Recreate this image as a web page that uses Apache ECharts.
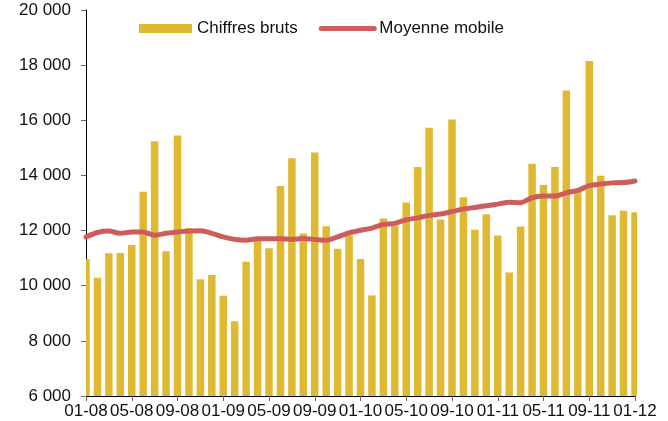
<!DOCTYPE html>
<html>
<head>
<meta charset="utf-8">
<script src="https://cdn.jsdelivr.net/npm/echarts@6/dist/echarts.min.js"></script>
<style>
  html, body { margin: 0; padding: 0; background: #fff; }
  #chart { width: 668px; height: 421px; }
</style>
</head>
<body>
<div id="chart"></div>
<script>
// mois (mm-aa)
const months = [
  '01-08', '02-08', '03-08', '04-08', '05-08', '06-08', '07-08', '08-08', '09-08', '10-08', '11-08', '12-08',
  '01-09', '02-09', '03-09', '04-09', '05-09', '06-09', '07-09', '08-09', '09-09', '10-09', '11-09', '12-09',
  '01-10', '02-10', '03-10', '04-10', '05-10', '06-10', '07-10', '08-10', '09-10', '10-10', '11-10', '12-10',
  '01-11', '02-11', '03-11', '04-11', '05-11', '06-11', '07-11', '08-11', '09-11', '10-11', '11-11', '12-11',
  '01-12'
]

const chiffresBruts = [
  10960, 10290, 11180, 11190, 11480, 13410, 15240, 11250, 15450, 12090, 10230, 10390,
  9640, 8710, 10870, 11660, 11360, 13620, 14620, 11890, 14830, 12160, 11340, 11830,
  10970, 9650, 12440, 12180, 13020, 14310, 15730, 12400, 16030, 13210, 12030, 12590,
  11820, 10480, 12150, 14420, 13650, 14310, 17080, 13410, 18150, 13990, 12560, 12720,
  12660
]

const moyenneMobile = [
  11770, 11930, 11980, 11900, 11950, 11950, 11830, 11900, 11950, 11980, 11990, 11900,
  11770, 11680, 11650, 11700, 11700, 11700, 11680, 11710, 11680, 11650, 11770, 11920,
  12010, 12090, 12220, 12260, 12390, 12460, 12550, 12600, 12690, 12780, 12840, 12900,
  12960, 13030, 13010, 13190, 13250, 13250, 13370, 13460, 13630, 13690, 13730, 13740,
  13800
]

const yTicks = { min: 6000, max: 20000, step: 2000 }

const chart = echarts.init(document.getElementById('chart'))

const fmt = v => String(v).replace(/\B(?=(\d{3})+(?!\d))/g, ' ')

// barres dessinées en custom pour pouvoir les couper au bord gauche de la grille
function renderBar (params, api) {
  const top = api.coord([api.value(0), api.value(1)])
  const base = api.coord([api.value(0), yTicks.min])
  const w = 7.5
  const cs = params.coordSys
  const rect = echarts.graphic.clipRectByRect(
    { x: top[0] - w / 2, y: top[1], width: w, height: base[1] - top[1] },
    { x: cs.x, y: cs.y, width: cs.width + 2, height: cs.height }
  )
  return rect && { type: 'rect', shape: rect, style: api.style() }
}

const option = {
  animation: false,
  textStyle: { fontFamily: 'Liberation Sans, Arial, sans-serif' },
  legend: {
    top: 15,
    left: 134,
    itemWidth: 53,
    itemHeight: 9,
    itemGap: 21,
    textStyle: { fontSize: 17, color: '#111' },
    data: [
      { name: 'Chiffres bruts', icon: 'rect' },
      { name: 'Moyenne mobile', lineStyle: { width: 5, cap: 'round' }, itemStyle: { opacity: 0 } }
    ]
  },
  grid: {
    left: 86,
    right: 33,
    top: 10,
    bottom: 25,
    containLabel: false,
    outerBoundsMode: 'none'
  },
  xAxis: {
    type: 'category',
    data: months,
    boundaryGap: false,
    axisLine: { lineStyle: { color: '#000', width: 1 } },
    axisTick: { interval: 3, length: 5, lineStyle: { color: '#666' } },
    axisLabel: { interval: 3, fontSize: 17, color: '#111', margin: 7 },
    splitLine: { show: false }
  },
  yAxis: {
    type: 'value',
    min: yTicks.min,
    max: yTicks.max,
    interval: yTicks.step,
    axisLine: { show: true, lineStyle: { color: '#000', width: 1 } },
    axisTick: { show: true, length: 5, lineStyle: { color: '#666' } },
    axisLabel: { fontSize: 17, color: '#111', margin: 15, formatter: fmt },
    splitLine: { show: false }
  },
  series: [
    {
      name: 'Chiffres bruts',
      type: 'custom',
      renderItem: renderBar,
      data: chiffresBruts.map((v, i) => [i, v]),
      encode: { x: 0, y: 1 },
      itemStyle: { color: '#e0b933' }
    },
    {
      name: 'Moyenne mobile',
      type: 'line',
      data: moyenneMobile,
      symbol: 'none',
      smooth: 0.25,
      z: 5,
      lineStyle: { color: '#cf5c5c', width: 5, cap: 'round' },
      itemStyle: { color: '#cf5c5c', opacity: 0 }
    }
  ]
}

chart.setOption(option)
</script>
</body>
</html>
